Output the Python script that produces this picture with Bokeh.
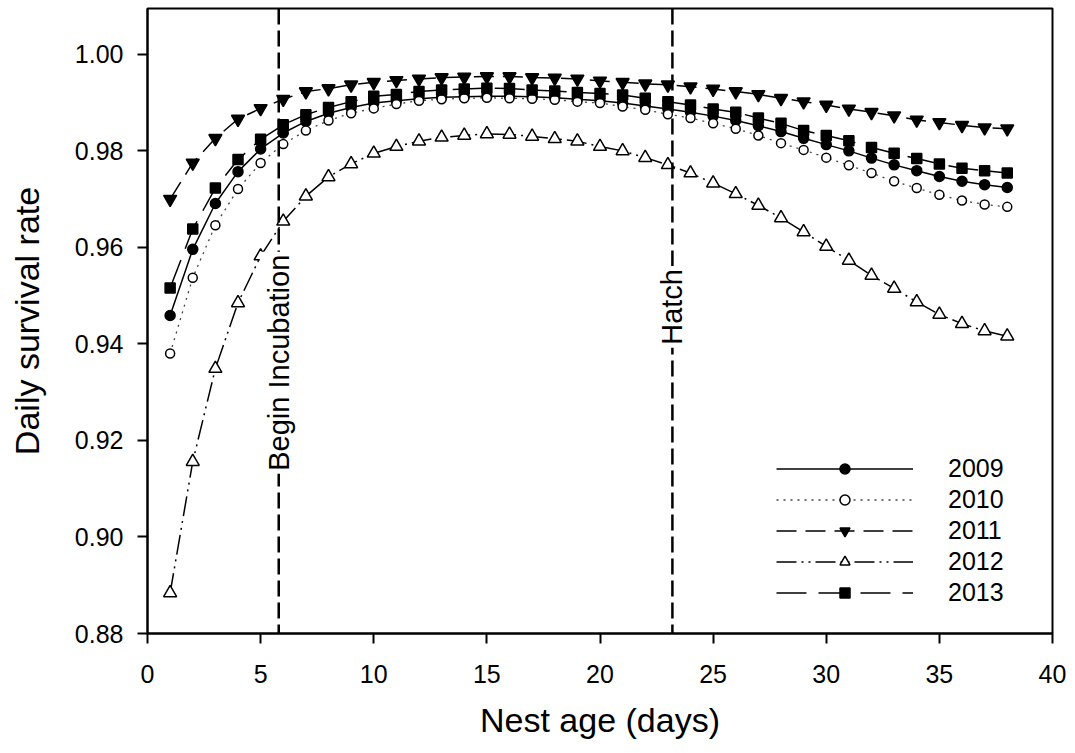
import math
from bokeh.plotting import figure
from bokeh.models import (Range1d, FixedTicker, NumeralTickFormatter, Span, Label,
                          Legend, LegendItem)
from bokeh.embed import file_html
from bokeh.resources import INLINE

ages = list(range(1, 39))
y2009 = [0.9459, 0.9596, 0.9691, 0.9757, 0.9804, 0.9837, 0.9861, 0.9878, 0.9890, 0.9899,
         0.9904, 0.9908, 0.9911, 0.9912, 0.9913, 0.9913, 0.9912, 0.9910, 0.9907, 0.9904,
         0.9899, 0.9893, 0.9887, 0.9880, 0.9872, 0.9863, 0.9852, 0.9840, 0.9826, 0.9813,
         0.9800, 0.9785, 0.9771, 0.9759, 0.9747, 0.9737, 0.9730, 0.9724]
y2010 = [0.9380, 0.9537, 0.9646, 0.9721, 0.9775, 0.9814, 0.9842, 0.9863, 0.9878, 0.9888,
         0.9897, 0.9904, 0.9907, 0.9909, 0.9910, 0.9909, 0.9908, 0.9906, 0.9902, 0.9899,
         0.9892, 0.9885, 0.9876, 0.9868, 0.9857, 0.9846, 0.9832, 0.9816, 0.9802, 0.9786,
         0.9770, 0.9754, 0.9737, 0.9723, 0.9709, 0.9697, 0.9689, 0.9684]
y2011 = [0.9700, 0.9775, 0.9826, 0.9866, 0.9888, 0.9907, 0.9923, 0.9929, 0.9937, 0.9942,
         0.9946, 0.9949, 0.9952, 0.9953, 0.9954, 0.9954, 0.9952, 0.9951, 0.9949, 0.9945,
         0.9942, 0.9939, 0.9937, 0.9933, 0.9928, 0.9923, 0.9917, 0.9909, 0.9902, 0.9895,
         0.9887, 0.9880, 0.9873, 0.9864, 0.9859, 0.9853, 0.9848, 0.9846]
y2012 = [0.8884, 0.9156, 0.9349, 0.9485, 0.9582, 0.9654, 0.9706, 0.9746, 0.9773, 0.9795,
         0.9809, 0.9820, 0.9828, 0.9832, 0.9835, 0.9834, 0.9830, 0.9825, 0.9820, 0.9809,
         0.9800, 0.9786, 0.9771, 0.9754, 0.9733, 0.9711, 0.9687, 0.9661, 0.9632, 0.9602,
         0.9573, 0.9542, 0.9515, 0.9487, 0.9461, 0.9442, 0.9427, 0.9416]
y2013 = [0.9516, 0.9638, 0.9723, 0.9782, 0.9824, 0.9854, 0.9875, 0.9890, 0.9902, 0.9913,
         0.9917, 0.9923, 0.9926, 0.9928, 0.9930, 0.9929, 0.9926, 0.9924, 0.9921, 0.9919,
         0.9916, 0.9909, 0.9902, 0.9895, 0.9887, 0.9880, 0.9868, 0.9857, 0.9842, 0.9832,
         0.9821, 0.9807, 0.9795, 0.9784, 0.9773, 0.9764, 0.9759, 0.9754]
years = ["2009", "2010", "2011", "2012", "2013"]
series = [y2009, y2010, y2011, y2012, y2013]

event_ages = [5.8, 23.2]
event_label_y = [0.9131, 0.9392]
event_labels = ["Begin Incubation", "Hatch"]

x_ticks = [0, 5, 10, 15, 20, 25, 30, 35, 40]
y_ticks = [0.88, 0.90, 0.92, 0.94, 0.96, 0.98, 1.00]

FONT = "Liberation Sans"

p = figure(width=1066, height=752, output_backend="svg", toolbar_location=None,
           x_range=Range1d(0, 40), y_range=Range1d(0.88, 1.0095),
           min_border_left=147, min_border_right=14, min_border_top=8, min_border_bottom=119)
p.grid.visible = False
p.outline_line_color = "black"
p.outline_line_width = 2
p.background_fill_color = "white"
p.border_fill_color = "white"

for ax in (p.xaxis[0], p.yaxis[0]):
    ax.axis_line_width = 2
    ax.major_tick_line_width = 2
    ax.major_tick_out = 10
    ax.major_tick_in = 0
    ax.minor_tick_out = 0
    ax.minor_tick_in = 0
    ax.major_label_text_font = FONT
    ax.major_label_text_font_size = "25px"
    ax.major_label_text_color = "black"
    ax.axis_label_text_font = FONT
    ax.axis_label_text_font_size = "34px"
    ax.axis_label_text_font_style = "normal"
    ax.axis_label_text_color = "black"

p.xaxis.ticker = FixedTicker(ticks=x_ticks)
p.yaxis.ticker = FixedTicker(ticks=y_ticks)
p.yaxis.formatter = NumeralTickFormatter(format="0.00")
p.xaxis.axis_label = "Nest age (days)"
p.yaxis.axis_label = "Daily survival rate"
p.xaxis.major_label_standoff = 21
p.yaxis.major_label_standoff = 14
p.xaxis.axis_label_standoff = 15
p.yaxis.axis_label_standoff = 26

# event lines
for xa in event_ages:
    p.add_layout(Span(location=xa, dimension="height", line_color="black",
                      line_width=2.5, line_dash="16 6"))
for xa, ya, txt in zip(event_ages, event_label_y, event_labels):
    p.add_layout(Label(x=xa, y=ya, text=txt, angle=math.pi / 2,
                       text_align="left", text_baseline="middle",
                       text_font=FONT, text_font_size="29px", text_color="black",
                       background_fill_color="white", padding=3))

styles = [
    dict(dash="solid", lc="black", lw=1.5, marker="circle", fill="black", size=10),
    dict(dash="2 5", lc="#444444", lw=1.3, marker="circle", fill="white", size=9),
    dict(dash="20 9", lc="black", lw=1.5, marker="inverted_triangle", fill="black", size=13),
    dict(dash="20 5 2 5 2 5", lc="black", lw=1.5, marker="triangle", fill="white", size=13),
    dict(dash="30 12", lc="black", lw=1.5, marker="square", fill="black", size=10),
]

items = []
for yr, ys, st in zip(years, series, styles):
    ln = p.line(ages, ys, line_color=st["lc"], line_width=st["lw"], line_dash=st["dash"])
    sc = p.scatter(ages, ys, marker=st["marker"], size=st["size"], fill_color=st["fill"],
                   line_color="black", line_width=1.5)
    items.append(LegendItem(label=yr, renderers=[ln, sc]))

legend = Legend(items=items, location=(629, 26), glyph_width=137, glyph_height=25,
                spacing=2, padding=0, margin=0, label_standoff=35,
                label_text_font=FONT, label_text_font_size="25px",
                label_text_color="black",
                border_line_color=None, background_fill_alpha=0)
p.add_layout(legend, "center")

open("out.html", "w").write(file_html(p, INLINE))
